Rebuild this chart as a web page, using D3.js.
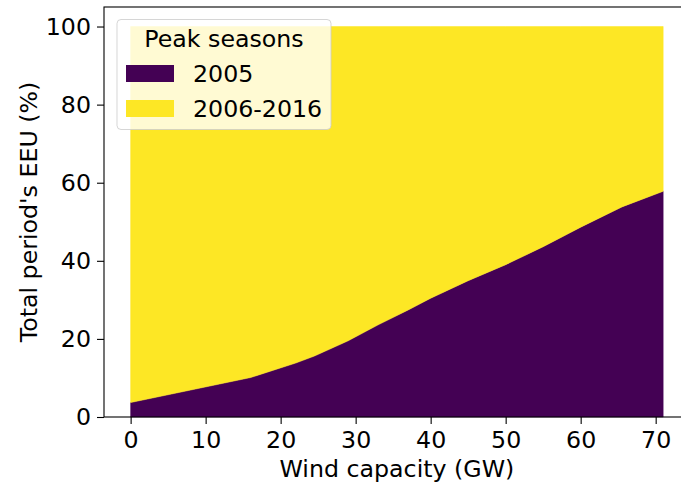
<!DOCTYPE html>
<html>
<head>
<meta charset="utf-8">
<script src="https://cdn.jsdelivr.net/npm/d3@7"></script>
<style>
  html, body { margin: 0; padding: 0; background: #fff; }
  svg { display: block; font-family: "DejaVu Sans", sans-serif; }
</style>
</head>
<body>
<svg id="chart" width="681" height="489"></svg>
<script>
// ---- data ----
const windCapacity = [0, 16, 22, 24.5, 29, 33, 37, 40, 45, 50, 55, 60, 65.5, 71];
const share2005 = [3.7, 10.1, 13.8, 15.6, 19.5, 23.6, 27.4, 30.4, 34.9, 39.0, 43.6, 48.6, 53.8, 57.8];
const share2006_2016 = share2005.map(v => 100 - v);
const seriesNames = ["2005", "2006-2016"];
const seriesColors = ["#440154", "#fde725"];
const xTicks = [0, 10, 20, 30, 40, 50, 60, 70];
const yTicks = [0, 20, 40, 60, 80, 100];
const xLabel = "Wind capacity (GW)";
const yLabel = "Total period's EEU (%)";
const legendTitle = "Peak seasons";

// ---- layout ----
const svg = d3.select("#chart");
const L = 104, R = 689.8, T = 7, B = 417;
const fs = 23.7;

const x = d3.scaleLinear().domain([-3.55, 74.55]).range([L, R]);
const y = d3.scaleLinear().domain([0, 105]).range([B, T]);

const rows = windCapacity.map((w, i) => ({ w, a: share2005[i], b: share2006_2016[i] }));
const stack = d3.stack().keys(["a", "b"]);
const stacked = stack(rows);

const area = d3.area()
  .x(d => x(d.data.w))
  .y0(d => y(d[0]))
  .y1(d => y(d[1]));

svg.append("g").selectAll("path")
  .data(stacked)
  .join("path")
  .attr("d", area)
  .attr("fill", (d, i) => seriesColors[i])
  .attr("stroke", (d, i) => seriesColors[i])
  .attr("stroke-width", 0.5);

// axes
const xAxis = d3.axisBottom(x).tickValues(xTicks).tickSize(7).tickPadding(6).tickFormat(d3.format("d"));
const yAxis = d3.axisLeft(y).tickValues(yTicks).tickSize(7).tickPadding(6).tickFormat(d3.format("d"));

const gx = svg.append("g").attr("transform", `translate(0,${B})`).call(xAxis);
const gy = svg.append("g").attr("transform", `translate(${L},0)`).call(yAxis);
[gx, gy].forEach(g => {
  g.select(".domain").remove();
  g.selectAll(".tick line").attr("stroke", "#000").attr("stroke-width", 1.1);
  g.selectAll(".tick text").attr("fill", "#000").style("font-size", fs + "px").style("font-family", "DejaVu Sans");
});
gx.selectAll(".tick text").attr("dy", "0.74em");

// spines
svg.append("rect")
  .attr("x", L).attr("y", T)
  .attr("width", R - L).attr("height", B - T)
  .attr("fill", "none").attr("stroke", "#000").attr("stroke-width", 1.1);

// axis labels
svg.append("text")
  .attr("x", (L + R) / 2).attr("y", 477)
  .attr("text-anchor", "middle")
  .style("font-size", fs + "px")
  .text(xLabel);

svg.append("text")
  .attr("transform", `translate(37,${(T + B) / 2}) rotate(-90)`)
  .attr("text-anchor", "middle")
  .style("font-size", fs + "px")
  .text(yLabel);

// legend
const lg = svg.append("g");
lg.append("rect")
  .attr("x", 117).attr("y", 19.5)
  .attr("width", 214).attr("height", 110)
  .attr("rx", 4).attr("ry", 4)
  .attr("fill", "#fff").attr("fill-opacity", 0.8)
  .attr("stroke", "#cccccc").attr("stroke-opacity", 0.8).attr("stroke-width", 1);
lg.append("text")
  .attr("x", 224).attr("y", 47)
  .attr("text-anchor", "middle")
  .style("font-size", fs + "px")
  .text(legendTitle);
seriesNames.forEach((name, i) => {
  const cy = 73.5 + i * 35;
  lg.append("rect")
    .attr("x", 126).attr("y", cy - 8.5)
    .attr("width", 48).attr("height", 17)
    .attr("fill", seriesColors[i]);
  lg.append("text")
    .attr("x", 193).attr("y", cy + 8.5)
    .style("font-size", fs + "px")
    .text(name);
});
</script>
</body>
</html>
